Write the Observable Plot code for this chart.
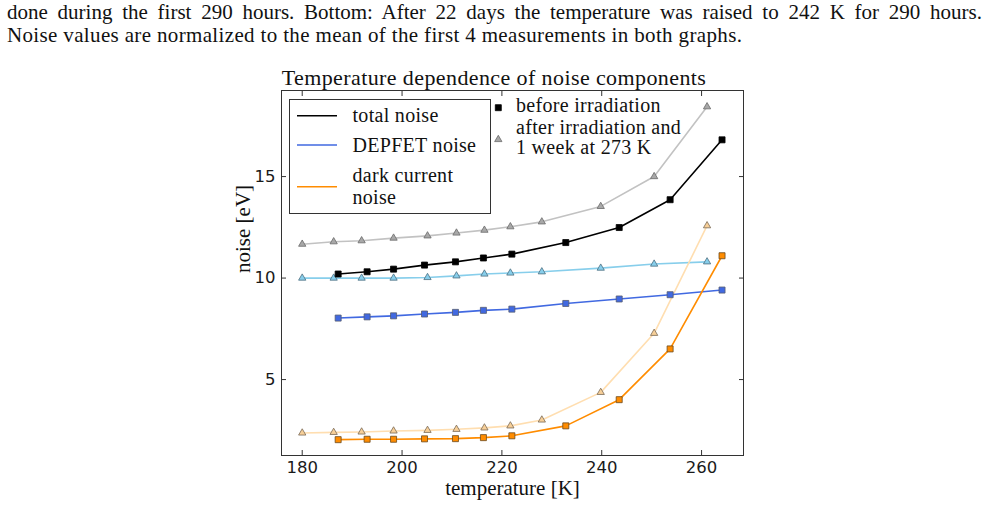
<!DOCTYPE html>
<html>
<head>
<meta charset="utf-8">
<script src="https://cdn.jsdelivr.net/npm/d3@7"></script>
<script src="https://cdn.jsdelivr.net/npm/@observablehq/plot@0.6"></script>
<style>
  html, body { margin: 0; padding: 0; background: #fff; }
  body { width: 982px; height: 509px; overflow: hidden; position: relative; }
  #cap { position: absolute; left: 7px; top: 1px; width: 975px; z-index: 2;
         font-family: "Liberation Serif", serif; font-size: 21px; line-height: 23px; color: #111;
         letter-spacing: 0.35px; }
  #cap .l1 { text-align: justify; text-align-last: justify; letter-spacing: 0; }
  #chart { position: absolute; left: 0; top: 0; }
</style>
</head>
<body>
<div id="cap">
  <div class="l1">done during the first 290 hours. Bottom: After 22 days the temperature was raised to 242 K for 290 hours.</div>
  <div>Noise values are normalized to the mean of the first 4 measurements in both graphs.</div>
</div>
<div id="chart"></div>
<script>
// ---- data ----
const tBefore = [187.2, 193.0, 198.3, 204.5, 210.7, 216.3, 222.0, 232.8, 243.5, 253.7, 264.1];
const tAfter  = [180.0, 186.3, 191.9, 198.3, 205.1, 210.9, 216.5, 221.7, 228.0, 239.8, 250.5, 261.1];
const totalBefore  = [10.20, 10.31, 10.44, 10.64, 10.80, 10.99, 11.18, 11.75, 12.49, 13.86, 16.81];
const totalAfter   = [11.67, 11.79, 11.84, 11.97, 12.08, 12.22, 12.36, 12.53, 12.77, 13.53, 15.00, 18.44];
const depfetBefore = [8.03, 8.09, 8.14, 8.23, 8.31, 8.41, 8.47, 8.75, 8.97, 9.18, 9.41];
const depfetAfter  = [10.00, 10.00, 10.00, 10.00, 10.03, 10.11, 10.20, 10.25, 10.31, 10.49, 10.69, 10.80];
const darkBefore   = [2.04, 2.06, 2.06, 2.08, 2.09, 2.14, 2.23, 2.72, 4.01, 6.51, 11.10];
const darkAfter    = [2.37, 2.40, 2.42, 2.47, 2.50, 2.55, 2.62, 2.72, 3.01, 4.37, 7.28, 12.58];
const xTicks = [180, 200, 220, 240, 260];
const yTicks = [5, 10, 15];
const titleText = "Temperature dependence of noise components";
const xLabel = "temperature [K]";
const yLabel = "noise [eV]";
const lineLabels = ["total noise", "DEPFET noise", "dark current", "noise"];
const markerLabels = ["before irradiation", "after irradiation and", "1 week at 273 K"];

// ---- styling ----
const SERIF = "'Liberation Serif', 'DejaVu Serif', serif";
const SANS = "'DejaVu Sans', sans-serif";
const rows = (t, v) => t.map((x, i) => ({t: x, v: v[i]}));

const seriesSpec = [
  {t: tAfter,  v: totalAfter,   line: "#c2c2c2", fill: "#a8a8a8", edge: "#6a6a6a", symbol: "triangle"},
  {t: tAfter,  v: depfetAfter,  line: "#87ceeb", fill: "#87ceeb", edge: "#4d6f80", symbol: "triangle"},
  {t: tAfter,  v: darkAfter,    line: "#ffdeb0", fill: "#f7cf98", edge: "#7a6a55", symbol: "triangle"},
  {t: tBefore, v: totalBefore,  line: "#000000", fill: "#000000", edge: "#000000", symbol: "square"},
  {t: tBefore, v: depfetBefore, line: "#4169e1", fill: "#4169e1", edge: "#555c70", symbol: "square"},
  {t: tBefore, v: darkBefore,   line: "#ff8c00", fill: "#ff8c00", edge: "#6b4a1e", symbol: "square"}
];

const marks = [];
for (const s of seriesSpec) {
  marks.push(Plot.line(rows(s.t, s.v), {x: "t", y: "v", stroke: s.line, strokeWidth: 1.6}));
}
for (const s of seriesSpec) {
  marks.push(Plot.dot(rows(s.t, s.v), {x: "t", y: "v", symbol: s.symbol,
    r: s.symbol === "square" ? 3.4 : 2.7, fill: s.fill, stroke: s.edge, strokeWidth: 0.8}));
}

const chart = Plot.plot({
  width: 982,
  height: 509,
  marginTop: 90,
  marginBottom: 54,
  marginLeft: 281,
  marginRight: 239,
  style: {fontFamily: SERIF, fontSize: "19px", color: "#111", background: "transparent"},
  x: {domain: [175.85, 268.4], axis: null},
  y: {domain: [1.26, 19.24], axis: null},
  marks: [
    ...marks,
    Plot.frame({stroke: "#333", strokeWidth: 1}),
    Plot.axisX({anchor: "bottom", ticks: xTicks, tickSize: -5, tickPadding: 11, label: null,
      fontFamily: SANS, fontSize: 16.5, stroke: "#333", fill: "#1a1a1a"}),
    Plot.axisX({anchor: "top", ticks: xTicks, tickSize: -5, label: null, tickFormat: () => "", stroke: "#333"}),
    Plot.axisY({anchor: "left", ticks: yTicks, tickSize: -5, tickPadding: 11, label: null,
      fontFamily: SANS, fontSize: 16.5, stroke: "#333", fill: "#1a1a1a"}),
    Plot.axisY({anchor: "right", ticks: yTicks, tickSize: -5, label: null, tickFormat: () => "", stroke: "#333"}),
    Plot.text([titleText], {frameAnchor: "top", dy: -21, dx: -18.5, fontSize: 22, fill: "#111", className: "ttl"}),
    Plot.text([xLabel], {frameAnchor: "bottom", dy: 39, fontSize: 21, fill: "#111"}),
    Plot.text([yLabel], {frameAnchor: "left", dx: -38, rotate: -90, fontSize: 21, fill: "#111"})
  ]
});
document.getElementById("chart").appendChild(chart);
d3.select(chart).selectAll(".ttl text").style("letter-spacing", "0.4px");

// ---- legends (decorative, drawn in pixel space) ----
const svg = d3.select(chart);
const lg = svg.append("g").attr("font-family", SERIF).attr("font-size", 20)
  .attr("fill", "#111").attr("text-anchor", "start").style("letter-spacing", "0.3px");
lg.append("rect").attr("x", 289.5).attr("y", 99.5).attr("width", 201).attr("height", 114)
  .attr("fill", "#fff").attr("stroke", "#333").attr("stroke-width", 1);
const legLines = [
  {y: 115.7, color: "#000000", label: lineLabels[0], ty: 122},
  {y: 145.0, color: "#4169e1", label: lineLabels[1], ty: 152},
  {y: 186.7, color: "#ff8c00", label: lineLabels[2], ty: 181.5}
];
for (const l of legLines) {
  lg.append("line").attr("x1", 297).attr("x2", 337).attr("y1", l.y).attr("y2", l.y)
    .attr("stroke", l.color).attr("stroke-width", 1.6);
  lg.append("text").attr("x", 352.5).attr("y", l.ty).text(l.label);
}
lg.append("text").attr("x", 352.5).attr("y", 203.5).text(lineLabels[3]);

lg.append("path").attr("d", d3.symbol(d3.symbolSquare, 36)()).attr("transform", "translate(498.3,107.7)")
  .attr("fill", "#000").attr("stroke", "#000").attr("stroke-width", 0.8);
lg.append("path").attr("d", d3.symbol(d3.symbolTriangle, 23)()).attr("transform", "translate(498.3,139.5)")
  .attr("fill", "#a8a8a8").attr("stroke", "#6a6a6a").attr("stroke-width", 0.8);
lg.append("text").attr("x", 516).attr("y", 112).text(markerLabels[0]);
lg.append("text").attr("x", 516).attr("y", 133.5).text(markerLabels[1]);
lg.append("text").attr("x", 516).attr("y", 153.5).text(markerLabels[2]);
</script>
</body>
</html>
